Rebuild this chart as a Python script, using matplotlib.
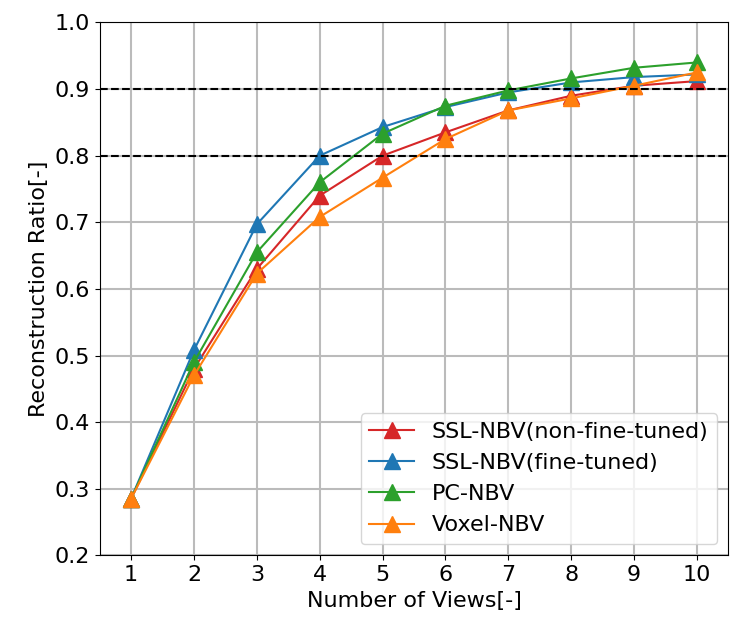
import matplotlib.pyplot as plt

views = [1, 2, 3, 4, 5, 6, 7, 8, 9, 10]
ssl_nft = [0.285, 0.48, 0.63, 0.74, 0.80, 0.835, 0.868, 0.89, 0.905, 0.912]
ssl_ft = [0.285, 0.508, 0.697, 0.80, 0.843, 0.873, 0.895, 0.91, 0.918, 0.922]
pc_nbv = [0.285, 0.49, 0.655, 0.76, 0.833, 0.875, 0.898, 0.916, 0.932, 0.94]
voxel_nbv = [0.285, 0.47, 0.623, 0.708, 0.767, 0.825, 0.868, 0.886, 0.905, 0.925]

fig, ax = plt.subplots(figsize=(7.38, 6.42), dpi=100)
ax.plot(views, ssl_nft, marker="^", markersize=12, color="tab:red", label="SSL-NBV(non-fine-tuned)")
ax.plot(views, ssl_ft, marker="^", markersize=12, color="tab:blue", label="SSL-NBV(fine-tuned)")
ax.plot(views, pc_nbv, marker="^", markersize=12, color="tab:green", label="PC-NBV")
ax.plot(views, voxel_nbv, marker="^", markersize=12, color="tab:orange", label="Voxel-NBV")
ax.axhline(0.9, color="black", linestyle="--", linewidth=1.5)
ax.axhline(0.8, color="black", linestyle="--", linewidth=1.5)

ax.set_xlim(0.5, 10.5)
ax.set_ylim(0.2, 1.0)
ax.set_xticks(views)
ax.grid(True, linewidth=1.5, color="#bbbbbb")
ax.tick_params(labelsize=16)
ax.set_xlabel("Number of Views[-]", fontsize=16)
ax.set_ylabel("Reconstruction Ratio[-]", fontsize=16)
ax.legend(loc="lower right", fontsize=16)

plt.subplots_adjust(left=0.135, right=0.987, top=0.965, bottom=0.135)
plt.savefig("out.png")
